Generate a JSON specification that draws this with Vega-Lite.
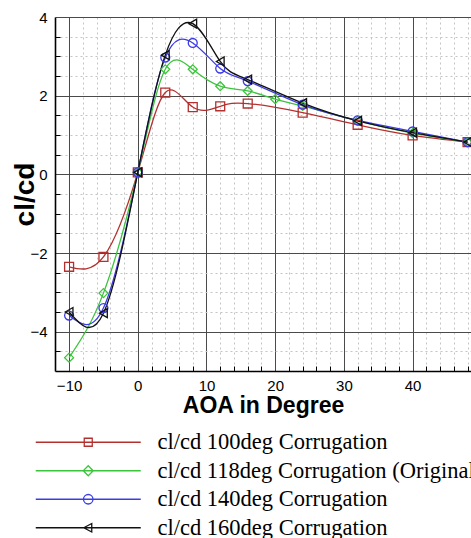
{
  "$schema": "https://vega.github.io/schema/vega-lite/v6.json",
  "autosize": {"type": "none"},
  "width": 416,
  "height": 354,
  "padding": {"left": 55, "top": 17, "right": 0, "bottom": 167},
  "background": "white",
  "config": {
    "view": {"stroke": null},
    "font": "Liberation Sans"
  },
  "data": {
    "values": [
      {"series": "cl/cd 100deg Corrugation", "aoa": -10, "clcd": -2.35},
      {"series": "cl/cd 100deg Corrugation", "aoa": -5, "clcd": -2.1},
      {"series": "cl/cd 100deg Corrugation", "aoa": 0, "clcd": 0.05},
      {"series": "cl/cd 100deg Corrugation", "aoa": 4, "clcd": 2.08},
      {"series": "cl/cd 100deg Corrugation", "aoa": 8, "clcd": 1.71},
      {"series": "cl/cd 100deg Corrugation", "aoa": 12, "clcd": 1.73},
      {"series": "cl/cd 100deg Corrugation", "aoa": 16, "clcd": 1.8},
      {"series": "cl/cd 100deg Corrugation", "aoa": 24, "clcd": 1.57},
      {"series": "cl/cd 100deg Corrugation", "aoa": 32, "clcd": 1.26},
      {"series": "cl/cd 100deg Corrugation", "aoa": 40, "clcd": 0.99},
      {"series": "cl/cd 100deg Corrugation", "aoa": 48, "clcd": 0.82},
      {"series": "cl/cd 118deg Corrugation (Original)", "aoa": -10, "clcd": -4.66},
      {"series": "cl/cd 118deg Corrugation (Original)", "aoa": -5, "clcd": -3.02},
      {"series": "cl/cd 118deg Corrugation (Original)", "aoa": 0, "clcd": 0.05},
      {"series": "cl/cd 118deg Corrugation (Original)", "aoa": 4, "clcd": 2.67},
      {"series": "cl/cd 118deg Corrugation (Original)", "aoa": 8, "clcd": 2.67},
      {"series": "cl/cd 118deg Corrugation (Original)", "aoa": 12, "clcd": 2.24},
      {"series": "cl/cd 118deg Corrugation (Original)", "aoa": 16, "clcd": 2.12},
      {"series": "cl/cd 118deg Corrugation (Original)", "aoa": 20, "clcd": 1.91},
      {"series": "cl/cd 118deg Corrugation (Original)", "aoa": 24, "clcd": 1.74},
      {"series": "cl/cd 118deg Corrugation (Original)", "aoa": 32, "clcd": 1.36},
      {"series": "cl/cd 118deg Corrugation (Original)", "aoa": 40, "clcd": 1.05},
      {"series": "cl/cd 118deg Corrugation (Original)", "aoa": 48, "clcd": 0.82},
      {"series": "cl/cd 140deg Corrugation", "aoa": -10, "clcd": -3.59},
      {"series": "cl/cd 140deg Corrugation", "aoa": -5, "clcd": -3.4},
      {"series": "cl/cd 140deg Corrugation", "aoa": 0, "clcd": 0.05},
      {"series": "cl/cd 140deg Corrugation", "aoa": 4, "clcd": 2.97},
      {"series": "cl/cd 140deg Corrugation", "aoa": 8, "clcd": 3.34},
      {"series": "cl/cd 140deg Corrugation", "aoa": 12, "clcd": 2.69},
      {"series": "cl/cd 140deg Corrugation", "aoa": 16, "clcd": 2.37},
      {"series": "cl/cd 140deg Corrugation", "aoa": 24, "clcd": 1.77},
      {"series": "cl/cd 140deg Corrugation", "aoa": 32, "clcd": 1.37},
      {"series": "cl/cd 140deg Corrugation", "aoa": 40, "clcd": 1.09},
      {"series": "cl/cd 140deg Corrugation", "aoa": 48, "clcd": 0.82},
      {"series": "cl/cd 160deg Corrugation", "aoa": -10, "clcd": -3.5},
      {"series": "cl/cd 160deg Corrugation", "aoa": -5, "clcd": -3.53},
      {"series": "cl/cd 160deg Corrugation", "aoa": 0, "clcd": 0.05},
      {"series": "cl/cd 160deg Corrugation", "aoa": 4, "clcd": 3.03},
      {"series": "cl/cd 160deg Corrugation", "aoa": 8, "clcd": 3.83},
      {"series": "cl/cd 160deg Corrugation", "aoa": 12, "clcd": 2.87},
      {"series": "cl/cd 160deg Corrugation", "aoa": 16, "clcd": 2.41},
      {"series": "cl/cd 160deg Corrugation", "aoa": 24, "clcd": 1.81},
      {"series": "cl/cd 160deg Corrugation", "aoa": 32, "clcd": 1.36},
      {"series": "cl/cd 160deg Corrugation", "aoa": 40, "clcd": 1.06},
      {"series": "cl/cd 160deg Corrugation", "aoa": 48, "clcd": 0.82}
    ]
  },
  "layer": [
    {
      "mark": {"type": "line", "interpolate": "natural", "strokeWidth": 1.3, "clip": true},
      "encoding": {
        "x": {
          "field": "aoa", "type": "quantitative",
          "scale": {"domain": [-12.05, 48.5], "nice": false, "zero": false},
          "axis": {
            "orient": "bottom",
            "values": [-8, -6, -4, -2, 2, 4, 6, 8, 12, 14, 16, 18, 22, 24, 26, 28, 32, 34, 36, 38, 42, 44, 46, 48],
            "grid": true, "gridColor": "#c4c4c4", "gridDash": [2, 3], "gridWidth": 1,
            "ticks": true, "tickSize": -5, "tickColor": "#000", "tickWidth": 1,
            "labels": false, "domain": false, "title": null
          }
        },
        "y": {
          "field": "clcd", "type": "quantitative",
          "scale": {"domain": [-5, 4], "nice": false, "zero": false},
          "axis": {
            "orient": "left",
            "values": [-4.5, -3.5, -3, -2.5, -1.5, -1, -0.5, 0.5, 1, 1.5, 2.5, 3, 3.5],
            "grid": true, "gridColor": "#c4c4c4", "gridDash": [2, 3], "gridWidth": 1,
            "ticks": true, "tickSize": -5, "tickColor": "#000", "tickWidth": 1,
            "labels": false, "domain": false, "title": null
          }
        },
        "color": {
          "field": "series", "type": "nominal",
          "scale": {"range": ["#b3302e", "#3cc43c", "#3c3ce6", "#111111"]},
          "legend": {
            "orient": "none", "legendX": 22, "legendY": 414,
            "direction": "vertical", "title": null, "padding": 0,
            "labelFont": "Liberation Serif", "labelFontSize": 22.5, "labelColor": "#000",
            "labelLimit": 0, "labelOffset": 58, "rowPadding": 5.5,
            "symbolSize": 100, "symbolStrokeWidth": 1.3, "symbolFillColor": "transparent",
            "symbolType": {"expr": "datum.value == 'cl/cd 100deg Corrugation' ? 'M-10.5,0H10.5M-0.8,-0.8H0.8V0.8H-0.8Z' : datum.value == 'cl/cd 118deg Corrugation (Original)' ? 'M-10.5,0H10.5M0,-1L1,0L0,1L-1,0Z' : datum.value == 'cl/cd 140deg Corrugation' ? 'M-10.5,0H10.5M-0.95,0A0.95,0.95,0,1,0,0.95,0A0.95,0.95,0,1,0,-0.95,0Z' : 'M-10.5,0H10.5M-0.9,0L0.7,-0.85L0.7,0.85Z'"}
          }
        }
      }
    },
    {
      "mark": {"type": "point", "filled": false, "size": 80, "strokeWidth": 1.3, "opacity": 1, "clip": true},
      "encoding": {
        "x": {
          "field": "aoa", "type": "quantitative",
          "axis": {
            "orient": "bottom",
            "values": [-10, 0, 10, 20, 30, 40],
            "grid": true, "gridColor": "#4a4a4a", "gridWidth": 1,
            "ticks": false,
            "labelFont": "Liberation Sans", "labelFontSize": 15, "labelColor": "#000", "labelPadding": 7,
            "domain": true, "domainColor": "#000", "domainWidth": 1.6,
            "title": "AOA in Degree", "titleFont": "Liberation Sans", "titleFontSize": 23, "titleFontWeight": "bold",
            "titleColor": "#000", "titlePadding": 1
          }
        },
        "y": {
          "field": "clcd", "type": "quantitative",
          "axis": {
            "orient": "left",
            "values": [-4, -2, 0, 2, 4],
            "grid": true, "gridColor": "#4a4a4a", "gridWidth": 1,
            "ticks": false,
            "labelFont": "Liberation Sans", "labelFontSize": 15, "labelColor": "#000", "labelPadding": 8,
            "domain": true, "domainColor": "#000", "domainWidth": 1.6,
            "title": "cl/cd", "titleFont": "Liberation Sans", "titleFontSize": 28, "titleFontWeight": "bold",
            "titleColor": "#000", "titlePadding": -10
          }
        },
        "stroke": {
          "field": "series", "type": "nominal",
          "scale": {"range": ["#b3302e", "#3cc43c", "#3c3ce6", "#111111"]},
          "legend": null
        },
        "shape": {
          "field": "series", "type": "nominal",
          "scale": {"range": ["square", "diamond", "circle", "triangle-left"]},
          "legend": null
        }
      }
    }
  ],
  "resolve": {"axis": {"x": "independent", "y": "independent"}}
}
